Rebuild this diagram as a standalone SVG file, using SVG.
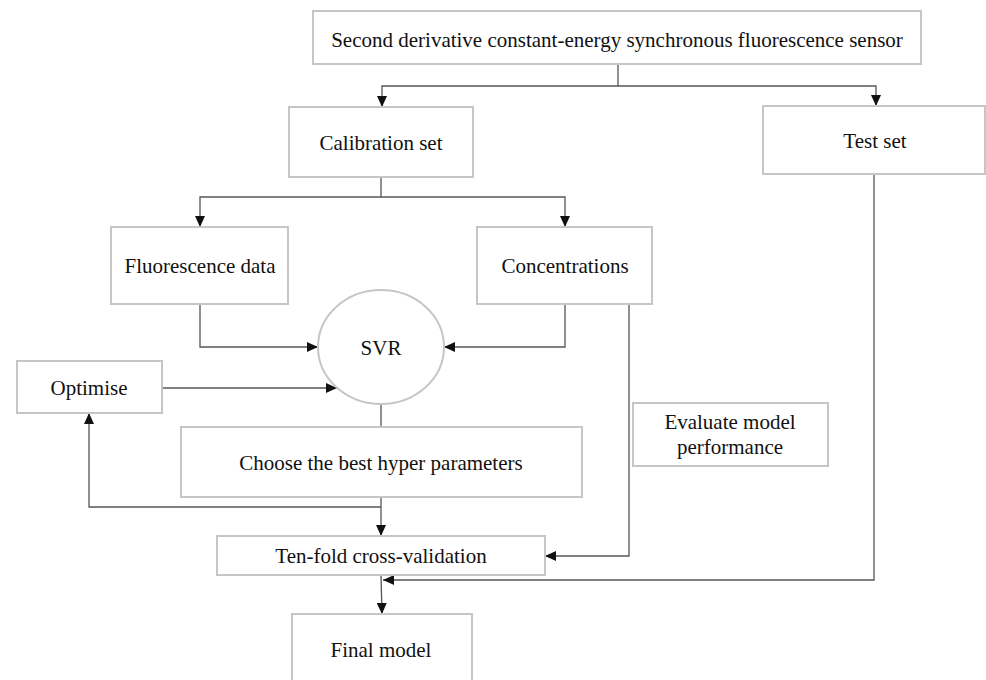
<svg xmlns="http://www.w3.org/2000/svg" width="986" height="680" viewBox="0 0 986 680">
<style>
.box{fill:#fff;stroke:#c6c6c6;stroke-width:2}
.t{font-family:"Liberation Serif","Times New Roman",serif;font-size:21px;fill:#111;text-anchor:middle}
.c{fill:none;stroke:#555;stroke-width:1.3}
</style>
<defs>
<marker id="ah" markerUnits="userSpaceOnUse" markerWidth="12" markerHeight="10" refX="11" refY="5" orient="auto">
<path d="M0,0 L11,5 L0,10 Z" fill="#111"/>
</marker>
</defs>
<rect width="986" height="680" fill="#fff"/>
<g id="connectors">
<path class="c" d="M618,64 V86"/>
<path class="c" d="M618,86 H382 V107" marker-end="url(#ah)"/>
<path class="c" d="M618,86 H876 V106" marker-end="url(#ah)"/>
<path class="c" d="M381,177 V197"/>
<path class="c" d="M381,197 H200 V227" marker-end="url(#ah)"/>
<path class="c" d="M381,197 H565 V227" marker-end="url(#ah)"/>
<path class="c" d="M200,304 V347 H318" marker-end="url(#ah)"/>
<path class="c" d="M565,304 V347 H444" marker-end="url(#ah)"/>
<path class="c" d="M162,388 H337" marker-end="url(#ah)"/>
<path class="c" d="M381,404 V427"/>
<path class="c" d="M381,497 V536" marker-end="url(#ah)"/>
<path class="c" d="M381,507 H89 V413" marker-end="url(#ah)"/>
<path class="c" d="M629,304 V556 H545" marker-end="url(#ah)"/>
<path class="c" d="M874,174 V580 H383" marker-end="url(#ah)"/>
<path class="c" d="M381,575 L382,614" marker-end="url(#ah)"/>
</g>
<g id="sensor"><rect class="box" x="313" y="11" width="608" height="53"/><text class="t" x="617" y="47">Second derivative constant-energy synchronous fluorescence sensor</text></g>
<g id="calibration"><rect class="box" x="289" y="107" width="184" height="70"/><text class="t" x="381" y="150">Calibration set</text></g>
<g id="testset"><rect class="box" x="763" y="106" width="222" height="68"/><text class="t" x="875" y="148">Test set</text></g>
<g id="fluorescence"><rect class="box" x="111" y="227" width="177" height="77"/><text class="t" x="200" y="273">Fluorescence data</text></g>
<g id="concentrations"><rect class="box" x="477" y="227" width="175" height="77"/><text class="t" x="565" y="273">Concentrations</text></g>
<g id="svr"><ellipse class="box" cx="381" cy="347" rx="63" ry="57"/><text class="t" x="381" y="355">SVR</text></g>
<g id="optimise"><rect class="box" x="17" y="361" width="145" height="52"/><text class="t" x="89" y="395">Optimise</text></g>
<g id="choose"><rect class="box" x="181" y="427" width="401" height="70"/><text class="t" x="381" y="470">Choose the best hyper parameters</text></g>
<g id="evaluate"><rect class="box" x="633" y="403" width="195" height="63"/><text class="t" x="730" y="429">Evaluate model</text><text class="t" x="730" y="454">performance</text></g>
<g id="tenfold"><rect class="box" x="217" y="536" width="328" height="39"/><text class="t" x="381" y="563">Ten-fold cross-validation</text></g>
<g id="final"><rect class="box" x="292" y="614" width="180" height="80"/><text class="t" x="381" y="657">Final model</text></g>
</svg>
